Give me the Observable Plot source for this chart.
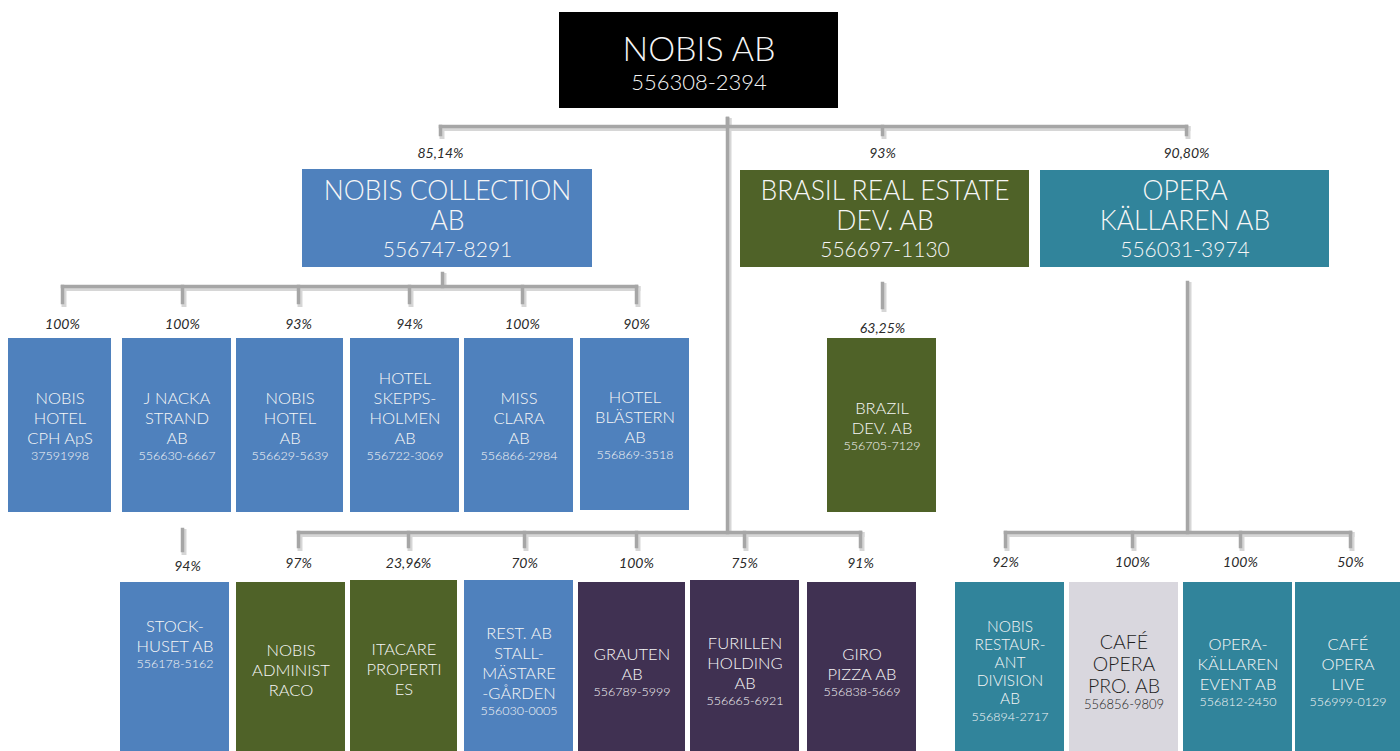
<!DOCTYPE html>
<html><head><meta charset="utf-8">
<script src="https://cdn.jsdelivr.net/npm/d3@7"></script>
<script src="https://cdn.jsdelivr.net/npm/@observablehq/plot@0.6"></script>
<style>html,body{margin:0;padding:0;background:#fff;overflow:hidden} #chart svg{display:block}</style>
</head><body><div id="chart"></div>
<script>
// ---------- DATA ----------
const companies = [
  "NOBIS AB",
  "NOBIS COLLECTION\nAB",
  "BRASIL REAL ESTATE\nDEV. AB",
  "OPERA\nKÄLLAREN AB",
  "NOBIS\nHOTEL\nCPH ApS",
  "J NACKA\nSTRAND\nAB",
  "NOBIS\nHOTEL\nAB",
  "HOTEL\nSKEPPS-\nHOLMEN\nAB",
  "MISS\nCLARA\nAB",
  "HOTEL\nBLÄSTERN\nAB",
  "BRAZIL\nDEV. AB",
  "STOCK-\nHUSET AB",
  "NOBIS\nADMINIST\nRACO",
  "ITACARE\nPROPERTI\nES",
  "REST. AB\nSTALL-\nMÄSTARE\n-GÅRDEN",
  "GRAUTEN\nAB",
  "FURILLEN\nHOLDING\nAB",
  "GIRO\nPIZZA AB",
  "NOBIS\nRESTAUR-\nANT\nDIVISION\nAB",
  "CAFÉ\nOPERA\nPRO. AB",
  "OPERA-\nKÄLLAREN\nEVENT AB",
  "CAFÉ\nOPERA\nLIVE"
];
const orgNumbers = [
  "556308-2394","556747-8291","556697-1130","556031-3974",
  "37591998","556630-6667","556629-5639","556722-3069","556866-2984","556869-3518",
  "556705-7129","556178-5162","","","556030-0005","556789-5999","556665-6921","556838-5669",
  "556894-2717","556856-9809","556812-2450","556999-0129"
];
const ownership = [
  "","85,14%","93%","90,80%",
  "100%","100%","93%","94%","100%","90%",
  "63,25%","94%","97%","23,96%","70%","100%","75%","91%",
  "92%","100%","100%","50%"
];
const parents = [-1,0,0,0, 1,1,1,1,1,1, 2,5, 0,0,0,0,0,0, 3,3,3,3];
const segments = [
  "Moderbolag","Hotell","Fastigheter","Restaurang Opera",
  "Hotell","Hotell","Hotell","Hotell","Hotell","Hotell",
  "Fastigheter","Hotell","Fastigheter","Fastigheter","Hotell","Restaurang","Restaurang","Restaurang",
  "Restaurang Opera","Café Opera Pro","Restaurang Opera","Restaurang Opera"
];
const segmentNames  = ["Moderbolag","Hotell","Fastigheter","Restaurang Opera","Restaurang","Café Opera Pro"];
const segmentColors = ["#000000","#4F81BD","#4F6228","#31849B","#403152","#D9D7DE"];

// ---------- LAYOUT (separate from the data) ----------
// [x1, x2, y1, y2, stubX, bus, tier, textDy]
const layout = [
  [559, 838, 12, 108, 726, null, "top", 2],
  [302, 592, 169, 267, 440, "A", "mid", 1.5],
  [740, 1029, 170, 267, 882, "A", "mid", 1.5],
  [1040, 1329, 170, 267, 1186, "A", "mid", 1.5],
  [8, 111, 338, 512, 62, "C", "leaf", 0],
  [122, 231, 338, 512, 182, "C", "leaf", 0],
  [236, 343, 338, 512, 298, "C", "leaf", 0],
  [350, 459, 338, 512, 409, "C", "leaf", -10],
  [464, 573, 338, 512, 522, "C", "leaf", 0],
  [580, 689, 338, 510, 636, "C", "leaf", 0],
  [827, 936, 338, 512, 882, "D", "leaf", 0],
  [120, 229, 582, 760, 182, "F", "leaf", -28],
  [236, 345, 582, 760, 298, "B", "leaf", -2],
  [350, 457, 580, 760, 408, "B", "leaf", -2],
  [464, 573, 580, 760, 524, "B", "leaf", 0],
  [578, 685, 582, 760, 636, "B", "leaf", 0],
  [690, 799, 580, 760, 744, "B", "leaf", 0],
  [807, 916, 582, 760, 860, "B", "leaf", 0],
  [955, 1064, 582, 760, 1005, "E", "small", 0],
  [1069, 1178, 582, 760, 1132, "E", "large", 0],
  [1183, 1292, 582, 760, 1240, "E", "leaf", 0],
  [1295, 1400, 582, 760, 1350, "E", "leaf", 0]
];
const buses = {
  A: {trunkX: 727, top: 118, y: 126, drop: 8, pctY: 153},
  B: {trunkX: 727, top: 118, y: 532, drop: 14, pctY: 563},
  C: {trunkX: 442, top: 273, y: 286, drop: 16, pctY: 324},
  D: {trunkX: 882, top: 283, y: 307, drop: 0, pctY: 328},
  E: {trunkX: 1187, top: 282, y: 532, drop: 14, pctY: 562},
  F: {trunkX: 182, top: 529, y: 550, drop: 0, pctY: 566}
};
const tiers = {
  top:   {fs: 34, ifs: 22, lh: 40, idH: 28},
  mid:   {fs: 26.5, ifs: 21, lh: 30, idH: 30},
  leaf:  {fs: 16.5, ifs: 12.5, lh: 20, idH: 16},
  small: {fs: 15.5, ifs: 12.5, lh: 18, idH: 18},
  large: {fs: 19.5, ifs: 13, lh: 22, idH: 16}
};

// ---------- BUILD ----------
const nodes = companies.map((name, i) => {
  const [x1, x2, y1, y2, stubX, bus, tier, dy] = layout[i];
  const t = tiers[tier];
  const n = name.split("\n").length;
  const hasId = orgNumbers[i] !== "";
  const total = n * t.lh + (hasId ? t.idH : 0);
  const cy = (y1 + y2) / 2 + dy;
  const top = cy - total / 2;
  return {
    name, id: orgNumbers[i], pct: ownership[i], parent: parents[i], segment: segments[i],
    x1, x2, y1, y2, cx: (x1 + x2) / 2, stubX, bus, tier,
    nameY: top + n * t.lh / 2, idY: top + n * t.lh + t.idH / 2,
    dark: segments[i] === "Café Opera Pro"
  };
});

const segs = [];
for (const [key, b] of Object.entries(buses)) {
  const kids = nodes.filter(d => d.bus === key);
  segs.push({x1: b.trunkX, y1: b.top, x2: b.trunkX, y2: b.y});
  const xs = kids.map(d => d.stubX).concat([b.trunkX]);
  const lo = d3.min(xs), hi = d3.max(xs);
  if (hi > lo) segs.push({x1: lo, y1: b.y, x2: hi, y2: b.y});
  if (b.drop > 0) for (const k of kids) segs.push({x1: k.stubX, y1: b.y, x2: k.stubX, y2: b.y + b.drop});
}
const pctLabels = nodes.filter(d => d.bus).map(d => ({x: d.stubX + (d.bus === "F" ? 5 : 0), y: buses[d.bus].pctY, text: d.pct}));

const FONT = "Lato, 'Open Sans', sans-serif";
const textMarks = [];
for (const [tier, t] of Object.entries(tiers)) {
  for (const dark of [false, true]) {
    const sub = nodes.filter(d => d.tier === tier && d.dark === dark);
    if (!sub.length) continue;
    const fill = dark ? "#1f1f1f" : "#f6f6f6";
    textMarks.push(Plot.text(sub, {x: "cx", y: "nameY", text: "name", fontSize: t.fs, lineHeight: t.lh / t.fs,
      lineAnchor: "middle", textAnchor: "middle", fill, fontFamily: FONT, fontWeight: 300}));
    textMarks.push(Plot.text(sub.filter(d => d.id), {x: "cx", y: "idY", text: "id", fontSize: t.ifs,
      lineAnchor: "middle", textAnchor: "middle", fill, fontFamily: FONT, fontWeight: 300}));
  }
}

const chart = Plot.plot({
  width: 1400, height: 751,
  margin: 0,
  x: {domain: [0, 1400], range: [0, 1400], axis: null},
  y: {domain: [0, 751], range: [0, 751], axis: null},
  color: {domain: segmentNames, range: segmentColors, legend: false},
  style: {background: "#ffffff"},
  marks: [
    Plot.link(segs, {x1: "x1", y1: "y1", x2: "x2", y2: "y2", stroke: "#d6d6d6", strokeWidth: 5, dx: 1.5, dy: 2, strokeLinecap: "square"}),
    Plot.link(segs, {x1: "x1", y1: "y1", x2: "x2", y2: "y2", stroke: "#a6a6a6", strokeWidth: 3.5, strokeLinecap: "square"}),
    Plot.rect(nodes, {x1: "x1", x2: "x2", y1: "y1", y2: "y2", fill: "segment"}),
    ...textMarks,
    Plot.text(pctLabels, {x: "x", y: "y", text: "text", fontSize: 14, fontStyle: "italic", fontWeight: 400, fill: "#2a2a2a", fontFamily: FONT})
  ]
});
document.getElementById("chart").appendChild(chart);
</script>
</body></html>
